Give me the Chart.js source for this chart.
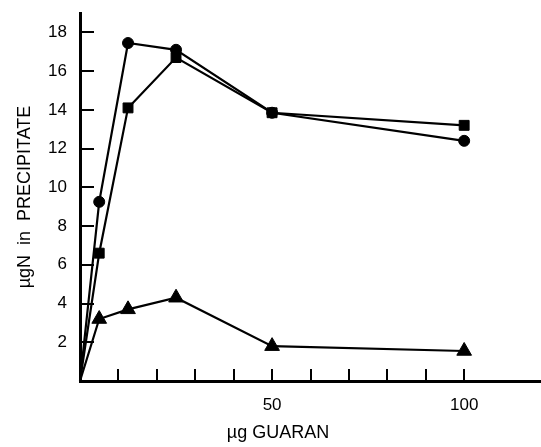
<!DOCTYPE html>
<html><head><meta charset="utf-8">
<script src="https://cdn.jsdelivr.net/npm/chart.js@4"></script>
<style>html,body{margin:0;padding:0;background:#fff;overflow:hidden}#w{width:541px;height:447px}</style>
</head><body><div id="w"><canvas id="c"></canvas></div>
<script>
const guaranDose = [0, 5, 12.5, 25, 50, 100];
const circleN = [0, 9.25, 17.45, 17.1, 13.85, 12.4];
const squareN = [0, 6.6, 14.1, 16.7, 13.85, 13.2];
const triangleN = [0, 3.2, 3.7, 4.3, 1.8, 1.55];
const xLabelShown = [50, 100];
const xTitle = 'µg GUARAN';
const yTitle = 'µgN  in  PRECIPITATE';

const ink = '#000';
const font = 'Liberation Sans, Arial, sans-serif';
function pts(ys){ return guaranDose.map((x,i)=>({x, y: ys[i]})); }
function ds(ys, style, r){
  return {data: pts(ys), showLine: true, borderColor: ink, backgroundColor: ink,
    borderWidth: 2.2, pointStyle: style, pointBorderWidth: 1,
    pointRadius: c => c.dataIndex === 0 ? 0 : r, tension: 0, clip: false};
}
function zeroPad(s){ s.paddingTop = 0; s.paddingBottom = 0; s.paddingLeft = 0; s.paddingRight = 0; }
new Chart(document.getElementById('c'), {
  type: 'scatter',
  data: {datasets: [ds(circleN,'circle',5.5), ds(squareN,'rect',7), ds(triangleN,'triangle',8.5)]},
  options: {
    responsive: true, maintainAspectRatio: false, animation: false,
    layout: {autoPadding: false, padding: {top: 13, right: 0, bottom: 0, left: 0}},
    plugins: {legend: {display: false}, tooltip: {enabled: false}},
    scales: {
      x: {type: 'linear', min: 0, max: 120,
        afterFit: s => { s.height = 66; zeroPad(s); },
        border: {color: ink, width: 3},
        grid: {drawOnChartArea: false, tickLength: -12, lineWidth: 2,
          tickColor: c => (c.tick && c.tick.value > 0 && c.tick.value <= 100) ? ink : 'rgba(0,0,0,0)'},
        ticks: {stepSize: 10, includeBounds: false, autoSkip: false, maxRotation: 0, padding: 26,
          color: ink, font: {family: font, size: 17},
          callback: v => xLabelShown.includes(v) ? String(v) : ''},
        title: {display: true, text: xTitle + '             ', color: ink,
          font: {family: font, size: 18}, padding: {top: 0, bottom: 3}}
      },
      y: {type: 'linear', min: 0, max: 19,
        afterFit: s => { s.width = 80; zeroPad(s); },
        border: {color: ink, width: 3},
        grid: {drawOnChartArea: false, tickLength: -14, lineWidth: 2,
          tickColor: c => (c.tick && c.tick.value > 0) ? ink : 'rgba(0,0,0,0)'},
        ticks: {stepSize: 2, includeBounds: false, padding: 27,
          color: ink, font: {family: font, size: 17},
          callback: v => v > 0 ? String(v) : ''},
        title: {display: true, text: yTitle, color: ink,
          font: {family: font, size: 18}, padding: {top: 14, bottom: 0}}
      }
    }
  }
});
</script></body></html>
